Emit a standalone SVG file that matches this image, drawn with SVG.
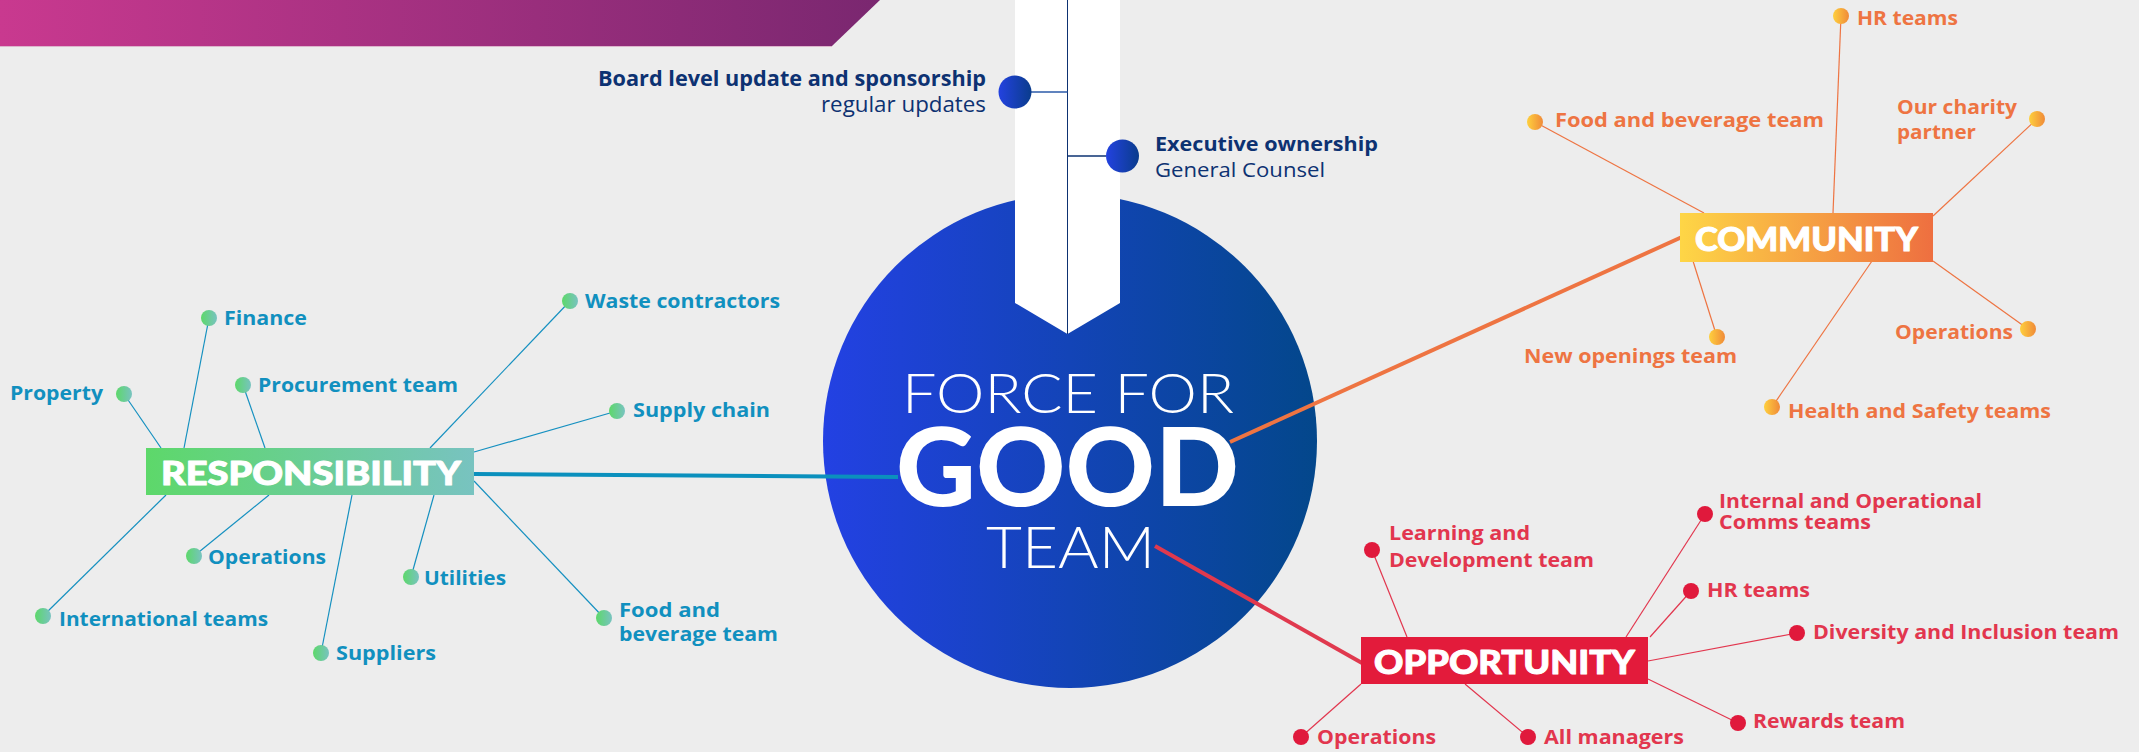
<svg xmlns="http://www.w3.org/2000/svg" width="2139" height="752" viewBox="0 0 2139 752">
<defs>
<linearGradient id="gBanner" x1="0" y1="0" x2="1" y2="0"><stop offset="0" stop-color="#c9398f"/><stop offset="1" stop-color="#7a2770"/></linearGradient>
<linearGradient id="gCircle" x1="0" y1="0" x2="1" y2="0"><stop offset="0" stop-color="#2341e3"/><stop offset="1" stop-color="#03478b"/></linearGradient>
<linearGradient id="gNavyDot" x1="0" y1="0" x2="1" y2="0"><stop offset="0" stop-color="#2342e0"/><stop offset="1" stop-color="#0a3c8c"/></linearGradient>
<linearGradient id="gResp" x1="0" y1="0" x2="1" y2="0"><stop offset="0" stop-color="#5dd86a"/><stop offset="1" stop-color="#78c3c0"/></linearGradient>
<linearGradient id="gComm" x1="0" y1="0" x2="1" y2="0"><stop offset="0" stop-color="#fed646"/><stop offset="1" stop-color="#ee6f40"/></linearGradient>
<linearGradient id="gCommDot" x1="0" y1="0" x2="1" y2="0"><stop offset="0" stop-color="#fed03e"/><stop offset="1" stop-color="#f08a38"/></linearGradient>
<style>
.lbl{font-family:"Open Sans","Liberation Sans",sans-serif;font-weight:700;font-size:20px}
.r{fill:#1190bf}.c{fill:#ee7442}.o{fill:#e2364e}
.box{font-family:Lato,"Liberation Sans",sans-serif;font-weight:900;font-size:33px;fill:#fff;stroke:#fff;stroke-width:1;stroke-linejoin:round}
.hero{font-family:Lato,"Liberation Sans",sans-serif;fill:#fff}
.navy{font-family:"Open Sans","Liberation Sans",sans-serif;fill:#0d3272}
.lr{stroke:#1590c0;stroke-width:1.2;fill:none}
.lc{stroke:#ee7442;stroke-width:1.2;fill:none}
.lo{stroke:#e2364e;stroke-width:1.2;fill:none}
.dr{fill:url(#gResp)}.dc{fill:url(#gCommDot)}.do{fill:#e0193c}
</style>
</defs>
<rect width="2139" height="752" fill="#ededed"/>
<g id="banner">
<polygon points="0,0 880,0 832,46 0,46" fill="url(#gBanner)"/>
<line x1="0" y1="46.5" x2="832" y2="46.5" stroke="#dcb5cc" stroke-width="1"/>
</g>
<g id="force-for-good">
<circle cx="1070" cy="441" r="247" fill="url(#gCircle)"/>
<text class="hero" x="902" y="413" font-size="56" font-weight="300" textLength="332" lengthAdjust="spacingAndGlyphs">FORCE FOR</text>
<text class="hero" x="896" y="506" font-size="108" font-weight="900" textLength="343" lengthAdjust="spacingAndGlyphs">GOOD</text>
<text class="hero" x="986" y="568" font-size="57" font-weight="300" textLength="169" lengthAdjust="spacingAndGlyphs">TEAM</text>
</g>
<g id="governance">
<polygon points="1015,0 1120,0 1120,303 1067.5,334 1015,303" fill="#fff"/>
<line x1="1067.5" y1="0" x2="1067.5" y2="334" stroke="#0d3272" stroke-width="1"/>
<line x1="1031" y1="92" x2="1067.5" y2="92" stroke="#2b5aa8" stroke-width="1.5"/>
<line x1="1067.5" y1="156" x2="1106" y2="156" stroke="#0d3272" stroke-width="1.5"/>
</g>
<g id="board">
<circle cx="1015" cy="92" r="16.5" fill="url(#gNavyDot)"/>
<text class="navy" x="986" y="86" font-size="21" font-weight="700" text-anchor="end" textLength="388" lengthAdjust="spacingAndGlyphs">Board level update and sponsorship</text>
<text class="navy" x="986" y="111.5" font-size="21" font-weight="400" text-anchor="end" textLength="165" lengthAdjust="spacingAndGlyphs">regular updates</text>
</g>
<g id="executive">
<circle cx="1122.5" cy="156" r="16.5" fill="url(#gNavyDot)"/>
<text class="navy" x="1155" y="150.5" font-size="20" font-weight="700" textLength="223" lengthAdjust="spacingAndGlyphs">Executive ownership</text>
<text class="navy" x="1155" y="177" font-size="20" font-weight="400" textLength="170" lengthAdjust="spacingAndGlyphs">General Counsel</text>
</g>
<g id="connectors">
<line x1="474" y1="474" x2="898" y2="477" stroke="#0b90bd" stroke-width="4"/>
<line x1="1230" y1="442" x2="1682" y2="237" stroke="#ee7442" stroke-width="4"/>
<line x1="1155" y1="546" x2="1362" y2="663" stroke="#e0394e" stroke-width="4"/>
<line class="lr" x1="209" y1="318" x2="184" y2="448"/>
<line class="lr" x1="124" y1="394" x2="161" y2="448"/>
<line class="lr" x1="243" y1="385" x2="265" y2="448"/>
<line class="lr" x1="570" y1="301" x2="430" y2="448"/>
<line class="lr" x1="617" y1="411" x2="474" y2="452"/>
<line class="lr" x1="194" y1="556" x2="269" y2="495"/>
<line class="lr" x1="43" y1="616" x2="166" y2="495"/>
<line class="lr" x1="321" y1="653" x2="352" y2="495"/>
<line class="lr" x1="411" y1="577" x2="434" y2="495"/>
<line class="lr" x1="604" y1="618" x2="474" y2="481"/>
<line class="lc" x1="1841" y1="16" x2="1833" y2="213"/>
<line class="lc" x1="1535" y1="122" x2="1704" y2="213"/>
<line class="lc" x1="2037" y1="119" x2="1933" y2="216"/>
<line class="lc" x1="2028" y1="329" x2="1933" y2="261"/>
<line class="lc" x1="1717" y1="337" x2="1693" y2="261"/>
<line class="lc" x1="1772" y1="407" x2="1872" y2="261"/>
<line class="lo" x1="1372" y1="550" x2="1407" y2="637"/>
<line class="lo" x1="1705" y1="514" x2="1626" y2="637"/>
<line class="lo" x1="1691" y1="591" x2="1650" y2="637"/>
<line class="lo" x1="1797" y1="633" x2="1648" y2="661"/>
<line class="lo" x1="1738" y1="723" x2="1648" y2="679"/>
<line class="lo" x1="1528" y1="737" x2="1465" y2="684"/>
<line class="lo" x1="1301" y1="737" x2="1361" y2="684"/>
</g>
<g id="responsibility">
<rect x="146" y="448" width="328" height="47" fill="url(#gResp)"/>
<text class="box" x="161" y="485" textLength="300" lengthAdjust="spacingAndGlyphs">RESPONSIBILITY</text>
</g>
<g id="r-finance"><circle class="dr" cx="209" cy="318" r="8"/><text class="lbl r" x="224" y="325" textLength="83" lengthAdjust="spacingAndGlyphs">Finance</text></g>
<g id="r-property"><circle class="dr" cx="124" cy="394" r="8"/><text class="lbl r" x="103" y="400" text-anchor="end" textLength="93" lengthAdjust="spacingAndGlyphs">Property</text></g>
<g id="r-procurement"><circle class="dr" cx="243" cy="385" r="8"/><text class="lbl r" x="258" y="392" textLength="200" lengthAdjust="spacingAndGlyphs">Procurement team</text></g>
<g id="r-waste"><circle class="dr" cx="570" cy="301" r="8"/><text class="lbl r" x="585" y="308" textLength="195" lengthAdjust="spacingAndGlyphs">Waste contractors</text></g>
<g id="r-supply"><circle class="dr" cx="617" cy="411" r="8"/><text class="lbl r" x="633" y="417" textLength="137" lengthAdjust="spacingAndGlyphs">Supply chain</text></g>
<g id="r-operations"><circle class="dr" cx="194" cy="556" r="8"/><text class="lbl r" x="208" y="564" textLength="118" lengthAdjust="spacingAndGlyphs">Operations</text></g>
<g id="r-international"><circle class="dr" cx="43" cy="616" r="8"/><text class="lbl r" x="59" y="626" textLength="209" lengthAdjust="spacingAndGlyphs">International teams</text></g>
<g id="r-suppliers"><circle class="dr" cx="321" cy="653" r="8"/><text class="lbl r" x="336" y="660" textLength="100" lengthAdjust="spacingAndGlyphs">Suppliers</text></g>
<g id="r-utilities"><circle class="dr" cx="411" cy="577" r="8"/><text class="lbl r" x="424" y="585" textLength="82" lengthAdjust="spacingAndGlyphs">Utilities</text></g>
<g id="r-food"><circle class="dr" cx="604" cy="618" r="8"/><text class="lbl r" x="619" y="617" textLength="101" lengthAdjust="spacingAndGlyphs">Food and</text><text class="lbl r" x="619" y="641" textLength="159" lengthAdjust="spacingAndGlyphs">beverage team</text></g>
<g id="community">
<rect x="1680" y="213" width="253" height="49" fill="url(#gComm)"/>
<text class="box" x="1695" y="251" textLength="223" lengthAdjust="spacingAndGlyphs">COMMUNITY</text>
</g>
<g id="c-hr"><circle class="dc" cx="1841" cy="16" r="8"/><text class="lbl c" x="1857" y="25" textLength="101" lengthAdjust="spacingAndGlyphs">HR teams</text></g>
<g id="c-food"><circle class="dc" cx="1535" cy="122" r="8"/><text class="lbl c" x="1555" y="127" textLength="269" lengthAdjust="spacingAndGlyphs">Food and beverage team</text></g>
<g id="c-charity"><circle class="dc" cx="2037" cy="119" r="8"/><text class="lbl c" x="1897" y="114" textLength="120" lengthAdjust="spacingAndGlyphs">Our charity</text><text class="lbl c" x="1897" y="139" textLength="79" lengthAdjust="spacingAndGlyphs">partner</text></g>
<g id="c-operations"><circle class="dc" cx="2028" cy="329" r="8"/><text class="lbl c" x="2013" y="339" text-anchor="end" textLength="118" lengthAdjust="spacingAndGlyphs">Operations</text></g>
<g id="c-openings"><circle class="dc" cx="1717" cy="337" r="8"/><text class="lbl c" x="1524" y="363" textLength="213" lengthAdjust="spacingAndGlyphs">New openings team</text></g>
<g id="c-health"><circle class="dc" cx="1772" cy="407" r="8"/><text class="lbl c" x="1788" y="418" textLength="263" lengthAdjust="spacingAndGlyphs">Health and Safety teams</text></g>
<g id="opportunity">
<rect x="1361" y="637" width="287" height="47" fill="#e31b3b"/>
<text class="box" x="1374" y="674" textLength="261" lengthAdjust="spacingAndGlyphs">OPPORTUNITY</text>
</g>
<g id="o-learning"><circle class="do" cx="1372" cy="550" r="8"/><text class="lbl o" x="1389" y="540" textLength="141" lengthAdjust="spacingAndGlyphs">Learning and</text><text class="lbl o" x="1389" y="567" textLength="205" lengthAdjust="spacingAndGlyphs">Development team</text></g>
<g id="o-comms"><circle class="do" cx="1705" cy="514" r="8"/><text class="lbl o" x="1719" y="508" textLength="263" lengthAdjust="spacingAndGlyphs">Internal and Operational</text><text class="lbl o" x="1719" y="529" textLength="152" lengthAdjust="spacingAndGlyphs">Comms teams</text></g>
<g id="o-hr"><circle class="do" cx="1691" cy="591" r="8"/><text class="lbl o" x="1707" y="597" textLength="103" lengthAdjust="spacingAndGlyphs">HR teams</text></g>
<g id="o-diversity"><circle class="do" cx="1797" cy="633" r="8"/><text class="lbl o" x="1813" y="639" textLength="306" lengthAdjust="spacingAndGlyphs">Diversity and Inclusion team</text></g>
<g id="o-rewards"><circle class="do" cx="1738" cy="723" r="8"/><text class="lbl o" x="1753" y="728" textLength="152" lengthAdjust="spacingAndGlyphs">Rewards team</text></g>
<g id="o-managers"><circle class="do" cx="1528" cy="737" r="8"/><text class="lbl o" x="1544" y="744" textLength="140" lengthAdjust="spacingAndGlyphs">All managers</text></g>
<g id="o-operations"><circle class="do" cx="1301" cy="737" r="8"/><text class="lbl o" x="1317" y="744" textLength="119" lengthAdjust="spacingAndGlyphs">Operations</text></g>
</svg>
